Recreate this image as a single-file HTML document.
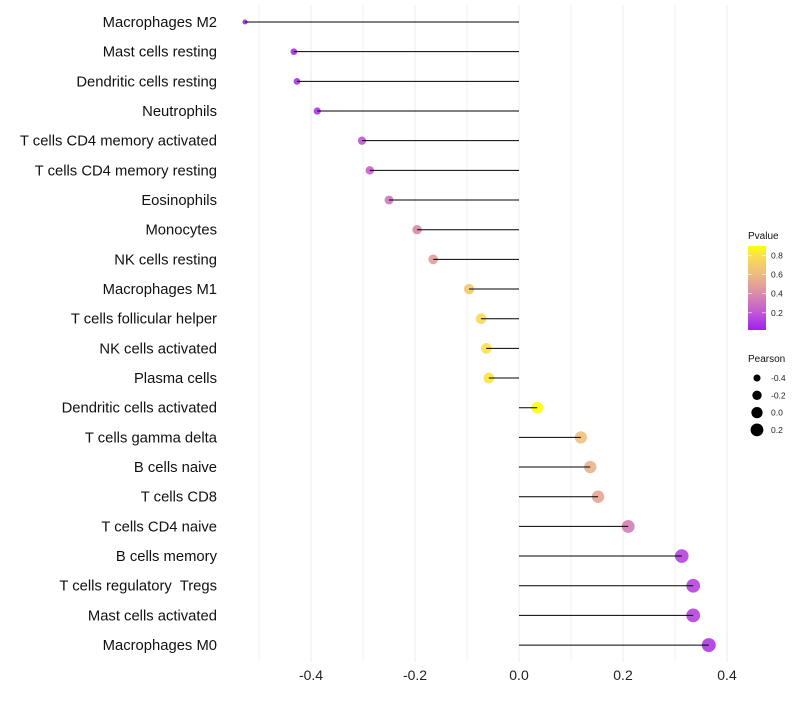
<!DOCTYPE html>
<html><head><meta charset="utf-8"><style>
body{margin:0;background:#fff;font-family:"Liberation Sans",sans-serif}
</style></head><body>
<svg id="chart" width="800" height="700" xmlns="http://www.w3.org/2000/svg"></svg>
<script>
const categories=["Macrophages M2","Mast cells resting","Dendritic cells resting","Neutrophils","T cells CD4 memory activated","T cells CD4 memory resting","Eosinophils","Monocytes","NK cells resting","Macrophages M1","T cells follicular helper","NK cells activated","Plasma cells","Dendritic cells activated","T cells gamma delta","B cells naive","T cells CD8","T cells CD4 naive","B cells memory","T cells regulatory  Tregs","Mast cells activated","Macrophages M0"];
const pearson=[-0.527,-0.433,-0.427,-0.388,-0.302,-0.287,-0.25,-0.196,-0.165,-0.096,-0.073,-0.063,-0.058,0.035,0.119,0.137,0.152,0.21,0.313,0.335,0.335,0.365];
const pvalues=[0.02,0.05,0.06,0.08,0.18,0.22,0.3,0.38,0.46,0.68,0.76,0.8,0.82,0.9,0.62,0.55,0.5,0.33,0.12,0.12,0.12,0.08];
const xTicks=[-0.4,-0.2,0.0,0.2,0.4];
const xMinor=[-0.5,-0.3,-0.1,0.1,0.3];
const pTicks=[0.2,0.4,0.6,0.8];
const sizeTicks=[-0.4,-0.2,0.0,0.2];
const NS="http://www.w3.org/2000/svg";
const svg=document.getElementById('chart');
const x=v=>519+v*520;
const y=i=>22+i*29.67;
const r=v=>Math.max(1.5,Math.sqrt(Math.max(0,11+47.5*(v+0.433))));
const stops=[[0,[159,32,240]],[0.2,[195,92,208]],[0.4,[219,143,168]],[0.6,[238,188,128]],[0.8,[248,224,80]],[0.9,[255,255,0]]];
function col(p){p=Math.min(0.9,Math.max(0,p));for(let k=0;k<stops.length-1;k++){const a=stops[k][0],ca=stops[k][1],b=stops[k+1][0],cb=stops[k+1][1];if(p<=b){const t=(p-a)/(b-a);return 'rgb('+ca.map((c,j)=>Math.round(c+(cb[j]-c)*t)).join(',')+')';}}return 'rgb(255,255,0)';}
function el(t,a,p){const e=document.createElementNS(NS,t);for(const k in a)e.setAttribute(k,a[k]);(p||svg).appendChild(e);return e;}
xMinor.forEach(v=>{const g=el('line',{x1:x(v),x2:x(v),y1:5,y2:662,stroke:'#f2f2f2','stroke-width':1});

});
xTicks.forEach(v=>{const g=el('line',{x1:x(v),x2:x(v),y1:5,y2:662,stroke:'#ebebeb','stroke-width':1});


const t=el('text',{x:x(v),y:680,'text-anchor':'middle','font-size':14,fill:'#222'});t.textContent=v.toFixed(1);

});
categories.forEach((c,i)=>{
const lab=el('text',{x:217,y:y(i)+5,'text-anchor':'end','font-size':14.8,fill:'#111',style:'white-space:pre'});lab.textContent=c;


const d=el('circle',{cx:x(pearson[i]),cy:y(i),r:r(pearson[i]),fill:col(pvalues[i]),'fill-opacity':0.9});


const l=el('line',{x1:x(0),x2:x(pearson[i]),y1:y(i),y2:y(i),stroke:'#000','stroke-width':1});


});
const lt=el('text',{x:748,y:239,'font-size':10,fill:'#111'});lt.textContent='Pvalue';


const defs=el('defs',{});const lg=el('linearGradient',{id:'pg',x1:0,y1:1,x2:0,y2:0},defs);
stops.forEach(s=>{el('stop',{offset:(s[0]/0.9*100)+'%','stop-color':'rgb('+s[1].join(',')+')'},lg);});
const lgTop=246,lgBot=330;const py=p=>lgBot-(p-0.02)/(0.9-0.02)*(lgBot-lgTop);
const bar=el('rect',{x:748,y:lgTop,width:18,height:lgBot-lgTop,fill:'url(#pg)'});


pTicks.forEach(p=>{el('line',{x1:748,x2:752,y1:py(p),y2:py(p),stroke:'#fff','stroke-width':0.6});el('line',{x1:762,x2:766,y1:py(p),y2:py(p),stroke:'#fff','stroke-width':0.6});
const t=el('text',{x:771,y:py(p)+3,'font-size':8.5,fill:'#222'});t.textContent=p.toFixed(1);

});
const st=el('text',{x:748,y:362,'font-size':10,fill:'#111'});st.textContent='Pearson';


sizeTicks.forEach((v,k)=>{const cy=378+k*17.3;
const c=el('circle',{cx:757,cy:cy,r:r(v),fill:'#000'});


const t=el('text',{x:771,y:cy+3,'font-size':8.5,fill:'#222'});t.textContent=v.toFixed(1);

});
</script>
</body></html>
